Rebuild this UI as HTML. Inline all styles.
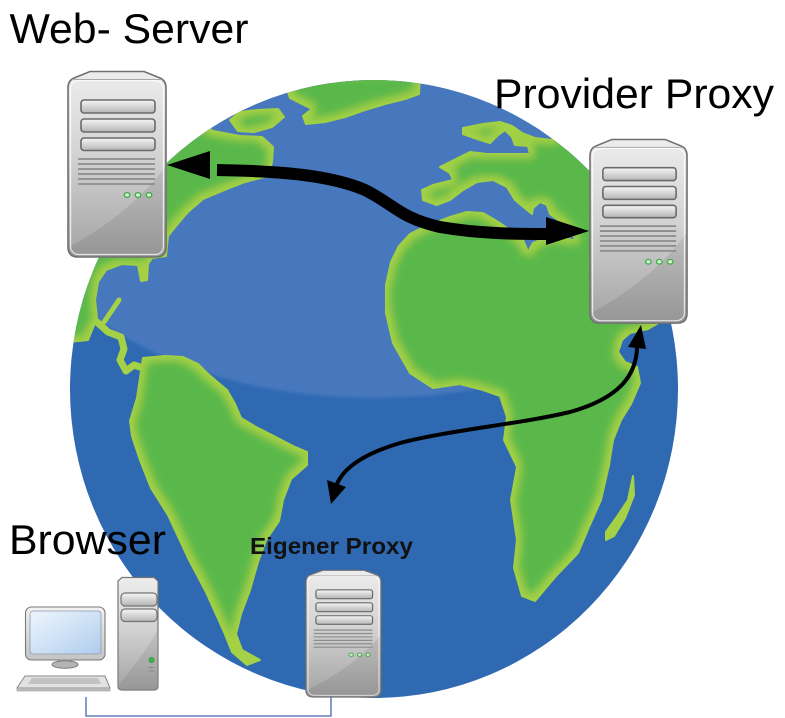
<!DOCTYPE html>
<html><head><meta charset="utf-8"><style>
html,body{margin:0;padding:0;background:#fff;}
svg{display:block;}
text{font-family:"Liberation Sans",Arial,sans-serif;}
</style></head><body>
<svg width="785" height="718" viewBox="0 0 785 718" xmlns="http://www.w3.org/2000/svg">
<defs>
  <clipPath id="gc"><ellipse cx="374" cy="389" rx="304" ry="309"/></clipPath>
  <filter id="lf" filterUnits="userSpaceOnUse" x="0" y="0" width="785" height="718">
    <feMorphology in="SourceAlpha" operator="erode" radius="5" result="e"/>
    <feGaussianBlur in="e" stdDeviation="4" result="b"/>
    <feComposite in="b" in2="SourceAlpha" operator="in" result="bc"/>
    <feFlood flood-color="#5ab84b"/>
    <feComposite in2="bc" operator="in" result="g"/>
    <feMerge><feMergeNode in="SourceGraphic"/><feMergeNode in="g"/></feMerge>
  </filter>
  <filter id="hb" filterUnits="userSpaceOnUse" x="0" y="0" width="785" height="718">
    <feGaussianBlur stdDeviation="1.5"/>
  </filter>
  <linearGradient id="gb" x1="0" y1="0" x2="0" y2="1">
    <stop offset="0" stop-color="#ededed"/>
    <stop offset="0.45" stop-color="#d3d3d3"/>
    <stop offset="1" stop-color="#a3a3a3"/>
  </linearGradient>
  <linearGradient id="gbay" x1="0" y1="0" x2="0" y2="1">
    <stop offset="0" stop-color="#f6f6f6"/>
    <stop offset="1" stop-color="#b5b5b5"/>
  </linearGradient>
  <linearGradient id="gscr" x1="0" y1="0" x2="1" y2="1">
    <stop offset="0" stop-color="#eef5fc"/>
    <stop offset="0.5" stop-color="#cfe2f6"/>
    <stop offset="1" stop-color="#aecbee"/>
  </linearGradient>
  <linearGradient id="gmon" x1="0" y1="0" x2="0" y2="1">
    <stop offset="0" stop-color="#f3f3f3"/>
    <stop offset="1" stop-color="#c4c4c4"/>
  </linearGradient>
  <g id="srv">
    <path d="M22,0.5 H76 L92,7 Q98,9.5 98,17 V176 Q98,186 88,186 H10 Q0,186 0,176 V17 Q0,9.5 6,7 Z" fill="url(#gb)" stroke="#6f6f6f" stroke-width="1.6"/>
    <path d="M1,176 C 30,160 68,135 97,96 V176 Q97,185 88,185 H10 Q1,185 1,176 Z" fill="#000" opacity="0.08"/>
    <rect x="2.6" y="9.5" width="92.8" height="174" rx="8" fill="none" stroke="#ffffff" stroke-opacity="0.75" stroke-width="1.2"/>
    <line x1="4" y1="8.5" x2="94" y2="8.5" stroke="#a8a8a8" stroke-width="1"/>
    <rect x="13" y="29" width="74" height="13" rx="3" fill="url(#gbay)" stroke="#6a6a6a" stroke-width="1.6"/>
    <rect x="13" y="48" width="74" height="13" rx="3" fill="url(#gbay)" stroke="#6a6a6a" stroke-width="1.6"/>
    <rect x="13" y="67" width="74" height="12.5" rx="3" fill="url(#gbay)" stroke="#6a6a6a" stroke-width="1.6"/>
    <g stroke="#8c8c8c" stroke-width="1.8">
      <line x1="10" y1="88" x2="87" y2="88"/>
      <line x1="10" y1="93" x2="87" y2="93"/>
      <line x1="10" y1="98" x2="87" y2="98"/>
      <line x1="10" y1="103" x2="87" y2="103"/>
      <line x1="10" y1="108" x2="87" y2="108"/>
      <line x1="10" y1="113" x2="87" y2="113"/>
    </g>
    <g fill="#d6efcc" stroke="#38ab46" stroke-width="1.3">
      <ellipse cx="59" cy="124" rx="2.8" ry="2.4"/>
      <ellipse cx="70" cy="124" rx="2.8" ry="2.4"/>
      <ellipse cx="81" cy="124" rx="2.8" ry="2.4"/>
    </g>
  </g>
</defs>

<!-- Globe -->
<ellipse cx="374" cy="389" rx="304" ry="309" fill="#2e69b2"/>
<g clip-path="url(#gc)">
  <ellipse cx="374" cy="200" rx="345" ry="198" fill="#4778bd" filter="url(#hb)"/>
  <g filter="url(#lf)">
    <g fill="#a4d145" stroke="#a4d145" stroke-width="2" stroke-linejoin="round">
      <!-- Greenland -->
      <path d="M282,74 L420,70 L419,94 L405,99 L385,104 L365,110 L345,117 L325,122 L306,124 L303,116 L312,109 L300,103 L290,98 Z"/>
      <!-- Arctic island -->
      <path d="M230,120 L240,112 L258,110 L278,109 L284,117 L272,127 L254,132 L238,131 Z"/>
      <!-- North America -->
      <path d="M40,100 L195,118 L213,131 L240,136 L262,137 L273,147 L272,162 L268,176 L245,182 L227,189 L203,199 L188,212 L176,226 L168,236 L166,256 L152,258 L148,264 L147,280 L141,281 L138,265 L122,264 L106,270 L98,282 L95,300 L97,318 L88,340 L40,345 Z"/>
      <!-- South America -->
      <path d="M143,358 L165,356 L183,357 L198,364 L208,374 L227,390 L235,404 L241,418 L256,427 L268,433 L293,446 L307,452 L307,465 L291,479 L283,500 L279,521 L266,540 L258,562 L250,590 L241,614 L236,634 L242,650 L260,660 L247,665 L232,652 L224,632 L206,592 L189,560 L168,515 L151,488 L140,460 L132,436 L130,421 L137,398 Z"/>
      <!-- Africa -->
      <path d="M391,262 L399,246 L410,234 L426,226 L450,217 L467,212 L483,213 L495,220 L510,230 L523,240 L528,252 L533,243 L545,238 L560,237 L573,240 L585,236 L600,240 L640,250 L660,322 L648,329 L630,333 L622,340 L618,352 L625,362 L637,367 L640,383 L631,404 L621,420 L613,440 L609,465 L601,500 L589,527 L578,553 L556,576 L535,601 L522,596 L514,568 L517,540 L511,500 L517,467 L504,440 L507,417 L500,396 L483,390 L460,384 L433,388 L410,373 L393,343 L386,313 L386,285 Z"/>
      <!-- Madagascar -->
      <path d="M633,476 L628,500 L616,518 L606,532 L606,540 L614,536 L625,518 L634,495 Z"/>
      <!-- Eurasia -->
      <path d="M463,128 L483,124 L500,122 L512,126 L522,133 L535,138 L552,140 L570,110 L720,110 L720,262 L620,250 L600,240 L585,236 L575,238 L565,226 L557,219 L550,214 L547,205 L540,202 L533,208 L532,214 L527,210 L515,200 L507,187 L493,180 L477,182 L463,190 L450,200 L437,205 L423,200 L422,190 L433,185 L453,180 L450,173 L440,167 L450,162 L470,152 L487,154 L530,154 L528,146 L515,145 L512,137 L505,130 L498,135 L490,143 L480,140 L463,134 Z"/>
      <!-- Central America / Baja -->
      <path d="M97,322 L108,332 L121,337 L124,349 L120,360 L126,371 L134,365 L143,368" fill="none" stroke-width="7" stroke-linecap="round"/>
      <path d="M119,300 L104,322" fill="none" stroke-width="5" stroke-linecap="round"/>
    </g>
  </g>
</g>

<!-- Thick arrow -->
<path d="M217,170 C280,171 330,175 365,190 C395,205 400,218 440,227 C480,234 520,234 548,234" fill="none" stroke="#000" stroke-width="12"/>
<polygon points="167,165 210,151 210,179" fill="#000"/>
<polygon points="589,231 546,217 546,245" fill="#000"/>

<!-- Thin arrow -->
<path d="M637,348 C636,375 620,398 570,412 C520,424 450,430 400,443 C370,452 345,465 337,484" fill="none" stroke="#000" stroke-width="4"/>
<polygon points="641,325 628,347 646,349" fill="#000"/>
<polygon points="331,504 327,480 346,487" fill="#000"/>

<!-- Servers -->
<use href="#srv" transform="translate(68,71)"/>
<use href="#srv" transform="translate(590,139) scale(0.99,0.99)"/>
<use href="#srv" transform="translate(306,570) scale(0.765,0.683)"/>

<!-- Browser PC -->
<g>
  <path d="M122,577.5 H154 L158,581 V686 Q158,690 154,690 H122 Q118,690 118,686 V581 Z" fill="url(#gb)" stroke="#777" stroke-width="1.2"/>
  <path d="M119,685 C130,670 148,650 157,630 V686 Q157,689 154,689 H122 Q119,689 119,685Z" fill="#000" opacity="0.07"/>
  <rect x="121" y="593" width="36" height="13" rx="4" fill="url(#gbay)" stroke="#747474" stroke-width="1.2"/>
  <rect x="121" y="609" width="36" height="12.5" rx="4" fill="url(#gbay)" stroke="#747474" stroke-width="1.2"/>
  <circle cx="151.5" cy="660" r="2.6" fill="#3cb44a" stroke="#2a8a36" stroke-width="0.6"/>
  <line x1="149" y1="667.5" x2="154" y2="667.5" stroke="#888" stroke-width="1"/>
  <line x1="149" y1="671" x2="154" y2="671" stroke="#888" stroke-width="1"/>

  <rect x="25.5" y="607" width="79.5" height="53" rx="6" fill="url(#gmon)" stroke="#7a7a7a" stroke-width="1.1"/>
  <rect x="30" y="611" width="71" height="43" rx="3" fill="url(#gscr)" stroke="#8e9aa6" stroke-width="0.8"/>
  <rect x="60" y="659" width="10" height="4" fill="#a8a8a8"/>
  <ellipse cx="65" cy="664.5" rx="13" ry="3.8" fill="#b4b4b4" stroke="#777" stroke-width="1"/>
  <polygon points="25,676 105,676 110,688 17,688" fill="#e2e2e2" stroke="#888" stroke-width="1"/>
  <polygon points="32,678 98,678 101,684 28,684" fill="#c2c2c2"/>
  <rect x="17" y="688" width="93" height="3" fill="#bdbdbd" stroke="#999" stroke-width="0.6"/>
</g>

<!-- Connector -->
<path d="M86,697 V716 H331 V697" fill="none" stroke="#4468b0" stroke-width="1.3"/>

<!-- Labels -->
<text x="9.5" y="43" font-size="42" fill="#000" textLength="239" lengthAdjust="spacingAndGlyphs">Web- Server</text>
<text x="494" y="108" font-size="42" fill="#000" textLength="280" lengthAdjust="spacingAndGlyphs">Provider Proxy</text>
<text x="9" y="554" font-size="42" fill="#000" textLength="157" lengthAdjust="spacingAndGlyphs">Browser</text>
<text x="250" y="554" font-size="23" font-weight="bold" fill="#111" textLength="163" lengthAdjust="spacingAndGlyphs">Eigener Proxy</text>
</svg>
</body></html>
